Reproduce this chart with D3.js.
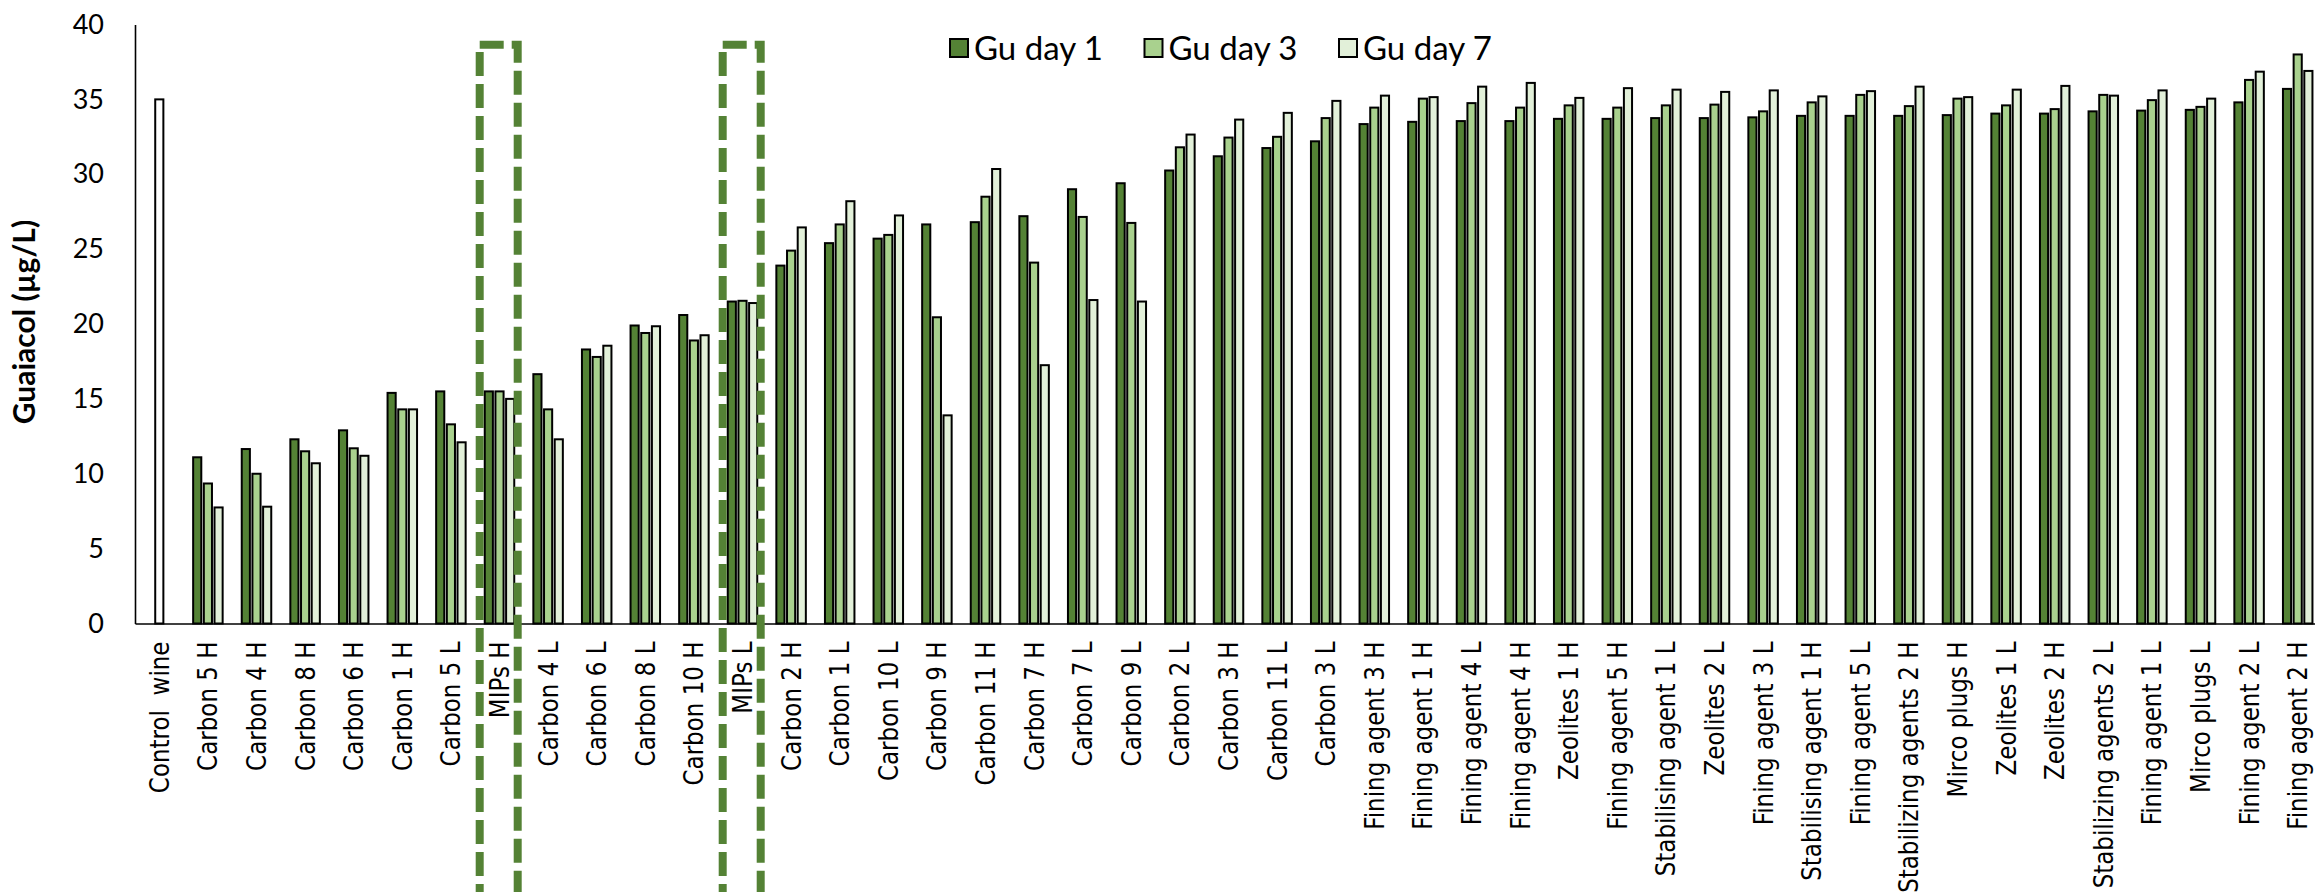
<!DOCTYPE html>
<html>
<head>
<meta charset="utf-8">
<script src="https://cdn.jsdelivr.net/npm/d3@7/dist/d3.min.js"></script>
<style>
  html, body { margin: 0; padding: 0; background: #fff; }
  svg { display: block; }
</style>
</head>
<body>
<svg id="chart" width="2315" height="892"></svg>
<script>
const categories = [
  "Control  wine", "Carbon 5 H", "Carbon 4 H", "Carbon 8 H", "Carbon 6 H", "Carbon 1 H", "Carbon 5 L",
  "MIPs H", "Carbon 4 L", "Carbon 6 L", "Carbon 8 L", "Carbon 10 H", "MIPs L", "Carbon 2 H",
  "Carbon 1 L", "Carbon 10 L", "Carbon 9 H", "Carbon 11 H", "Carbon 7 H", "Carbon 7 L", "Carbon 9 L",
  "Carbon 2 L", "Carbon 3 H", "Carbon 11 L", "Carbon 3 L", "Fining agent 3 H", "Fining agent 1 H",
  "Fining agent 4 L", "Fining agent 4 H", "Zeolites 1 H", "Fining agent 5 H", "Stabilising agent 1 L",
  "Zeolites 2 L", "Fining agent 3 L", "Stabilising agent 1 H", "Fining agent 5 L", "Stabilizing agents 2 H",
  "Mirco plugs H", "Zeolites 1 L", "Zeolites 2 H", "Stabilizing agents 2 L", "Fining agent 1 L",
  "Mirco plugs L", "Fining agent 2 L", "Fining agent 2 H"
];

const seriesNames = ["Gu day 1", "Gu day 3", "Gu day 7"];

const guDay1 = [null, 11.1, 11.65, 12.3, 12.9, 15.4, 15.5, 15.5, 16.65, 18.3, 19.9, 20.6, 21.5, 23.9,
  25.4, 25.7, 26.65, 26.8, 27.2, 29.0, 29.4, 30.25, 31.2, 31.75, 32.2, 33.35, 33.5, 33.55, 33.55,
  33.7, 33.7, 33.75, 33.75, 33.8, 33.9, 33.9, 33.9, 33.95, 34.05, 34.05, 34.2, 34.25, 34.3, 34.8, 35.7];

const guDay3 = [null, 9.35, 10.0, 11.5, 11.7, 14.3, 13.3, 15.5, 14.3, 17.8, 19.4, 18.9, 21.55, 24.9,
  26.65, 25.95, 20.45, 28.5, 24.1, 27.15, 26.75, 31.8, 32.45, 32.5, 33.75, 34.45, 35.05, 34.75, 34.45,
  34.6, 34.45, 34.6, 34.65, 34.2, 34.8, 35.3, 34.55, 35.05, 34.6, 34.35, 35.3, 34.95, 34.5, 36.3, 38.0];

const guDay7 = [null, 7.75, 7.8, 10.7, 11.2, 14.3, 12.1, 15.0, 12.3, 18.55, 19.85, 19.25, 21.4, 26.45,
  28.2, 27.25, 13.9, 30.35, 17.25, 21.6, 21.5, 32.65, 33.65, 34.1, 34.9, 35.25, 35.15, 35.85, 36.1,
  35.1, 35.75, 35.65, 35.5, 35.6, 35.2, 35.55, 35.85, 35.15, 35.65, 35.9, 35.25, 35.6, 35.05, 36.85, 36.9];

const controlCategory = ["Control  wine"];
const controlValue = [35.0];

const yTicks = [0, 5, 10, 15, 20, 25, 30, 35, 40];

const highlighted = ["MIPs H", "MIPs L"];

const colors = ["#548235", "#A9D18E", "#E2F0D9"];

const seriesValues = [guDay1, guDay3, guDay7];

const svg = d3.select("#chart");

const x0 = d3.scaleBand().domain(categories).range([135, 2322]).paddingInner(0.352).paddingOuter(0.176);
const x1 = d3.scaleBand().domain(seriesNames).range([0, x0.bandwidth()]).paddingInner(0.05);
const y = d3.scaleLinear().domain([0, 40]).range([623.5, 24.5]);
const color = d3.scaleOrdinal().domain(seriesNames).range(colors);

// bars
const rows = [];
categories.forEach((c, i) => {
  seriesNames.forEach((s, j) => {
    const v = seriesValues[j][i];
    if (v != null) rows.push({ cat: c, series: s, value: v });
  });
});

svg.append("g").selectAll("rect")
  .data(rows)
  .join("rect")
  .attr("x", d => x0(d.cat) + x1(d.series) + 1)
  .attr("width", x1.bandwidth() - 2)
  .attr("y", d => y(d.value))
  .attr("height", d => y(0) - y(d.value))
  .attr("fill", d => color(d.series))
  .attr("stroke", "#000")
  .attr("stroke-width", 2);

// control bar
svg.append("g").selectAll("rect")
  .data(controlCategory.map((c, i) => ({ cat: c, value: controlValue[i] })))
  .join("rect")
  .attr("x", d => x0(d.cat) + x0.bandwidth() / 2 - x1.bandwidth() / 2 + 1)
  .attr("width", x1.bandwidth() - 2)
  .attr("y", d => y(d.value))
  .attr("height", d => y(0) - y(d.value))
  .attr("fill", "#fff")
  .attr("stroke", "#000")
  .attr("stroke-width", 2);

// y axis
const yAxis = svg.append("g")
  .attr("transform", "translate(135,0)")
  .call(d3.axisLeft(y).tickValues(yTicks).tickSize(0).tickSizeOuter(0).tickPadding(31).tickFormat(d3.format("d")));
yAxis.select(".domain").attr("stroke", "#000").attr("stroke-width", 1.6);
yAxis.selectAll("text")
  .attr("font-family", "Lato, 'Open Sans', sans-serif")
  .attr("font-size", 27)
  .attr("fill", "#000");

// x axis
const xAxis = svg.append("g")
  .attr("transform", `translate(0,${y(0)})`)
  .call(d3.axisBottom(x0).tickSize(0).tickSizeOuter(0));
xAxis.select(".domain").attr("stroke", "#000").attr("stroke-width", 1.6);
xAxis.selectAll("text")
  .attr("transform", "scale(1.14,1) rotate(-90)")
  .attr("x", -18)
  .attr("y", 0)
  .attr("dy", "0.36em")
  .attr("text-anchor", "end")
  .attr("font-family", "'DejaVu Sans', Verdana, sans-serif")
  .attr("font-size", 23)
  .attr("fill", "#000")
  .style("white-space", "pre");

// y axis title
svg.append("text")
  .attr("transform", "translate(24,322) rotate(-90)")
  .attr("text-anchor", "middle")
  .attr("dy", "0.36em")
  .attr("font-family", "Lato, 'Open Sans', sans-serif")
  .attr("font-weight", "bold")
  .attr("font-size", 30)
  .attr("fill", "#000")
  .text("Guaiacol (µg/L)");

// legend
const legend = svg.append("g");
const legendItems = legend.selectAll("g")
  .data(seriesNames)
  .join("g")
  .attr("transform", (d, i) => `translate(${949 + i * 194.5},38)`);
legendItems.append("rect")
  .attr("x", 1).attr("y", 1)
  .attr("width", 18).attr("height", 18)
  .attr("fill", d => color(d))
  .attr("stroke", "#000")
  .attr("stroke-width", 2);
legendItems.append("text")
  .attr("x", 25)
  .attr("y", 10)
  .attr("dy", "0.36em")
  .attr("font-family", "Lato, 'Open Sans', sans-serif")
  .attr("font-size", 33)
  .attr("fill", "#000")
  .text(d => d);

// dashed highlight boxes
const boxes = svg.append("g");
highlighted.forEach(c => {
  const cx = x0(c) + x0.bandwidth() / 2 - 0.8;
  const left = cx - 19, right = cx + 19, top = y(38.65);
  boxes.append("path")
    .attr("d", `M${left},${top}H${right}V905`)
    .attr("fill", "none")
    .attr("stroke", "#548235")
    .attr("stroke-width", 8)
    .attr("stroke-dasharray", "24 8");
  boxes.append("path")
    .attr("d", `M${left},${top}V905`)
    .attr("fill", "none")
    .attr("stroke", "#548235")
    .attr("stroke-width", 8)
    .attr("stroke-dasharray", "24 8")
    .attr("stroke-dashoffset", 24.8);
});
</script>
</body>
</html>
